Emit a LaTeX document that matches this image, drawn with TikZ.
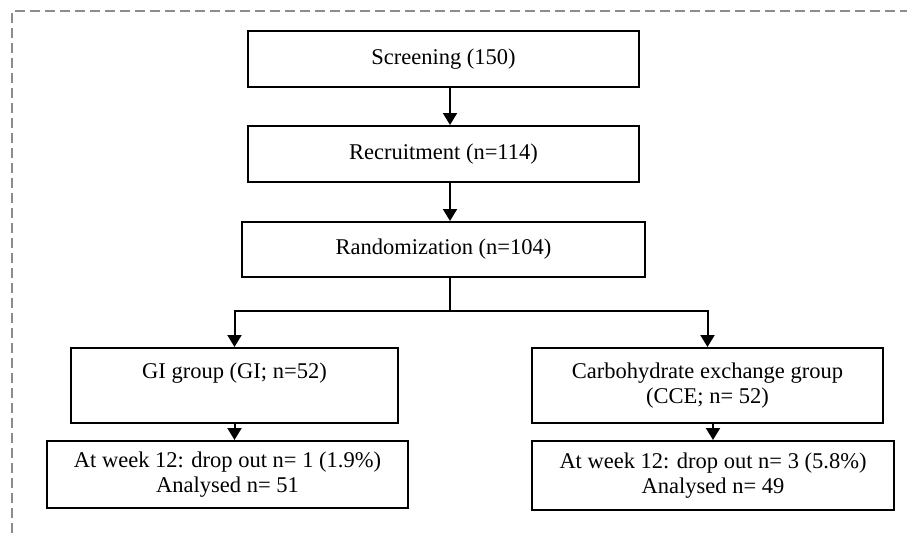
\documentclass[tikz,border=0pt]{standalone}
\usepackage{fontspec}
\setmainfont{Liberation Serif}
\usetikzlibrary{positioning,arrows.meta}
\definecolor{frame}{HTML}{8C8C8C}

\begin{document}
\begin{tikzpicture}[x=1pt,y=-1pt,font=\fontsize{22.5}{25.5}\selectfont,
  box/.style={draw=black,line width=2pt,align=center,inner sep=3pt},
  arr/.style={->,line width=2pt},
  >={Triangle[length=12pt,width=14pt]}]
\useasboundingbox (0,0) rectangle (907,533);
\draw[frame,line width=2.2pt,dash pattern=on 10pt off 5pt] (12,533) -- (12,11) -- (907,11);
\node[box,minimum width=391pt,minimum height=56pt] (scr) at (443.5,59) {Screening (150)};
\node[box,minimum width=391pt,minimum height=56pt,below=37pt of scr] (rec) {Recruitment (n=114)};
\node[box,minimum width=403pt,minimum height=55pt,below=38pt of rec] (rand) {Randomization (n=104)};
\node[box,minimum width=327pt,minimum height=75pt] (gi) at (234.5,385.5) {GI group (GI; n=52)\\\phantom{(CCE; n= 52)}};
\node[box,minimum width=351pt,minimum height=75pt] (cce) at (707.5,385.5) {Carbohydrate exchange group\\(CCE; n= 52)};
\node[box,minimum width=361pt,minimum height=67pt] (dl) at (227.5,474.5) {At week 12: drop out n= 1 (1.9\%)\\Analysed n= 51};
\node[box,minimum width=362pt,minimum height=69pt] (dr) at (713,475.5) {At week 12: drop out n= 3 (5.8\%)\\Analysed n= 49};
\coordinate (spine) at (450,311);
\draw[arr] (scr.south -| spine) -- (rec.north -| spine);
\draw[arr] (rec.south -| spine) -- (rand.north -| spine);
\draw[line width=2pt] (rand.south -| spine) -- (spine);
\draw[arr] (spine) -| (gi.north);
\draw[arr] (spine) -| (cce.north);
\draw[arr] (gi.south) -- (gi.south |- dl.north);
\draw[arr] (dr.north |- cce.south) -- (dr.north);
\end{tikzpicture}
\end{document}
